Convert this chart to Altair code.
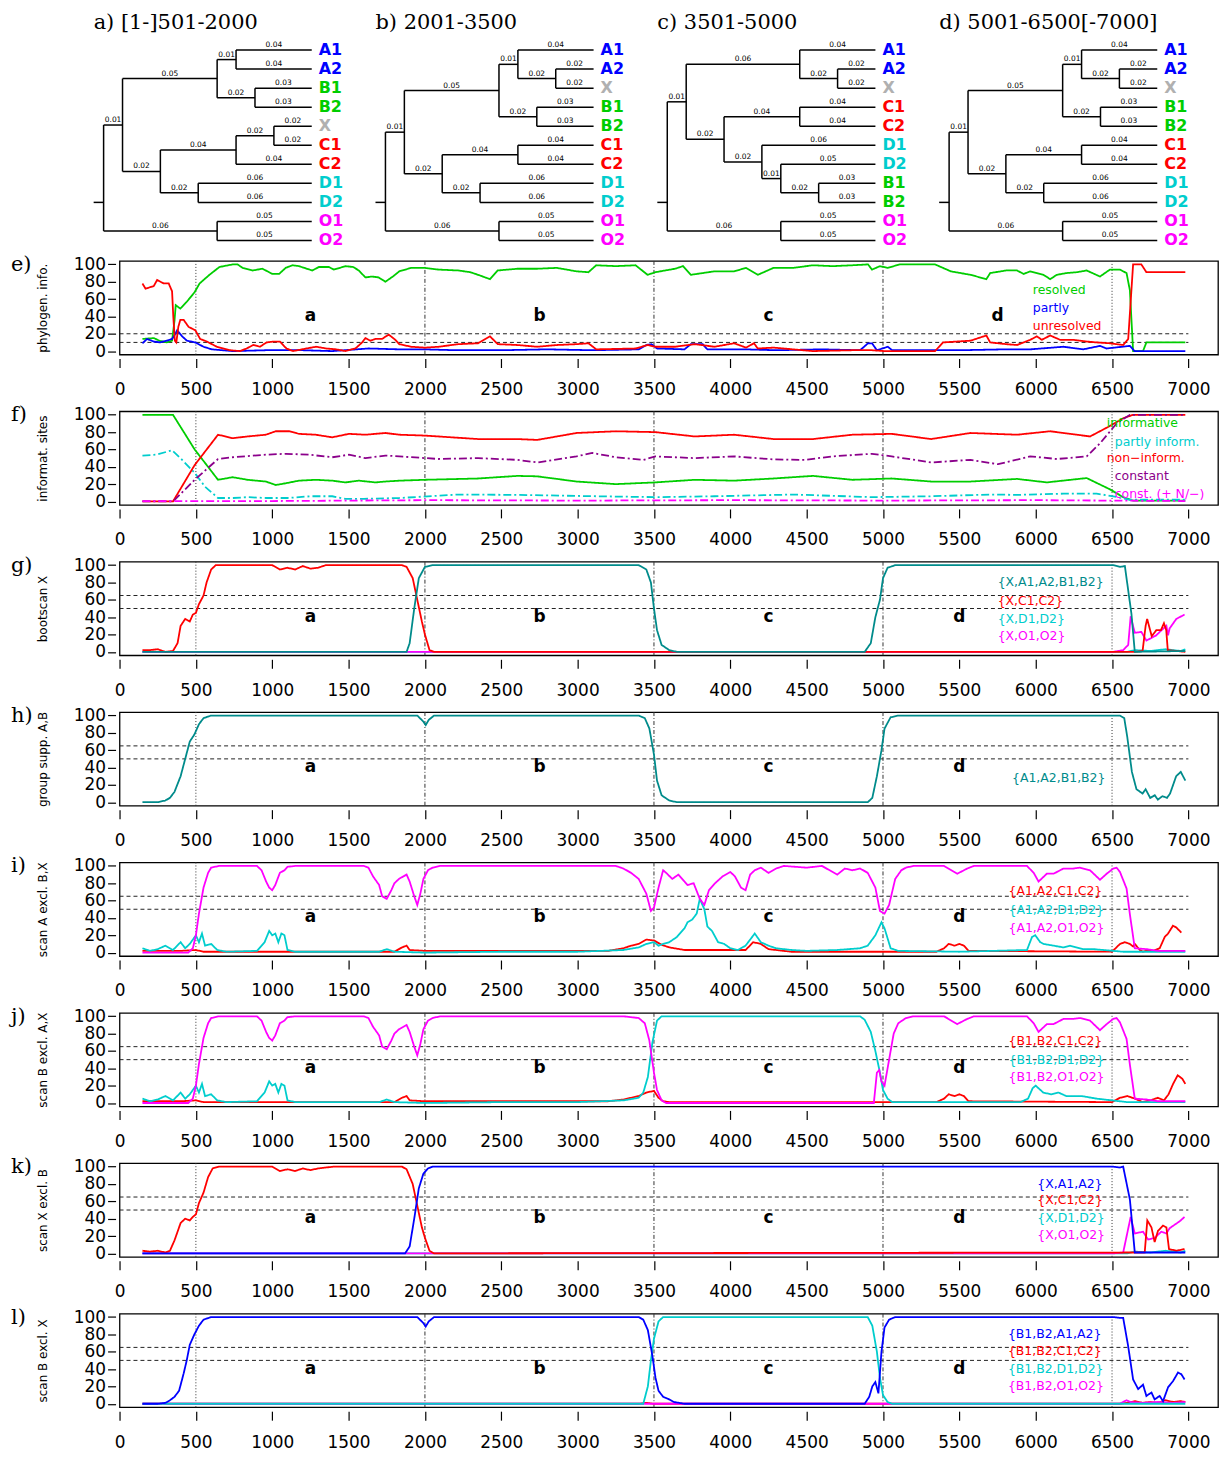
import altair as alt
import pandas as pd

SANS = "DejaVu Sans"
SERIF = "DejaVu Serif"
GREEN = "#00CD00"; RED = "#FF0000"; BLUE = "#0000FF"; CYAN = "#00CDCD"
MAGENTA = "#FF00FF"; TEAL = "#008B8B"; PURPLE = "#8B008B"; GREY = "#B0B0B0"
SOLID = [1, 0]
DASHDOT = [8, 3, 2, 3]

# ---------------- trees ----------------
TREE_TITLES = ["a) [1-]501-2000", "b) 2001-3500", "c) 3501-5000", "d) 5001-6500[-7000]"]
TREE_NEWICK = [
    "((((A1:0.04,A2:0.04):0.01,(B1:0.03,B2:0.03):0.02):0.05,(((X:0.02,C1:0.02):0.02,C2:0.04):0.04,(D1:0.06,D2:0.06):0.02):0.02):0.01,(O1:0.05,O2:0.05):0.06);",
    "((((A1:0.04,(A2:0.02,X:0.02):0.02):0.01,(B1:0.03,B2:0.03):0.02):0.05,((C1:0.04,C2:0.04):0.04,(D1:0.06,D2:0.06):0.02):0.02):0.01,(O1:0.05,O2:0.05):0.06);",
    "(((A1:0.04,(A2:0.02,X:0.02):0.02):0.06,((C1:0.04,C2:0.04):0.04,(D1:0.06,(D2:0.05,(B1:0.03,B2:0.03):0.02):0.01):0.02):0.02):0.01,(O1:0.05,O2:0.05):0.06);",
    "((((A1:0.04,(A2:0.02,X:0.02):0.02):0.01,(B1:0.03,B2:0.03):0.02):0.05,((C1:0.04,C2:0.04):0.04,(D1:0.06,D2:0.06):0.02):0.02):0.01,(O1:0.05,O2:0.05):0.06);",
]
LEAF_COLORS = {"A": BLUE, "B": GREEN, "X": GREY, "C": RED, "D": CYAN, "O": MAGENTA}

# ---------------- panel e ----------------
E_RESOLVED = [(150,14),(225,15),(260,12),(310,10),(344,12),(360,35),(368,53),(398,49),(441,57),(492,68),(524,78),(589,88),(654,97),(741,100),(773,100),(806,96),(871,93),(936,95),(1001,89),(1045,89),(1088,96),(1132,99),(1175,98),(1262,93),(1306,97),(1371,97),(1404,94),(1480,98),(1530,97),(1567,93),(1610,85),(1654,86),(1697,85),(1741,80),(1790,86),(1832,92),(1910,96),(2000,96),(2090,94),(2219,93),(2297,91),(2348,88),(2426,83),(2477,93),(2606,95),(2735,95),(2864,96),(2993,92),(3071,91),(3122,99),(3251,98),(3380,99),(3458,88),(3509,91),(3638,95),(3690,98),(3742,88),(3896,92),(4025,92),(4103,96),(4180,88),(4283,96),(4412,96),(4541,99),(4670,98),(4799,99),(4902,100),(4928,94),(4980,98),(5032,96),(5109,100),(5341,100),(5444,92),(5573,88),(5677,83),(5702,90),(5806,93),(5878,93),(5921,89),(5964,92),(6051,88),(6095,83),(6138,88),(6203,90),(6268,91),(6334,93),(6421,86),(6486,94),(6552,94),(6595,90),(6617,70),(6638,0),(6703,0),(6725,10),(6980,10)]
E_PARTLY = [(150,9),(180,14),(224,11),(267,10),(311,12),(344,14),(366,20),(377,24),(410,17),(441,12),(496,10),(550,5),(604,2),(741,0),(958,1),(1200,1),(1393,0),(1632,3),(1832,2),(2000,2),(2200,1),(2500,1),(2800,2),(3100,1),(3400,2),(3450,7),(3484,8),(3520,3),(3700,2),(3742,8),(3819,8),(3850,2),(4100,2),(4300,1),(4600,2),(4850,1),(4902,9),(4928,9),(4960,1),(5032,5),(5060,1),(5500,1),(5800,2),(5964,2),(6182,5),(6312,2),(6421,6),(6464,3),(6617,6),(6648,0),(6980,0)]
E_UNRESOLVED = [(150,78),(170,72),(224,75),(246,82),(290,78),(322,78),(344,69),(352,40),(362,12),(372,10),(385,28),(398,36),(420,36),(452,28),(496,24),(528,14),(572,11),(637,5),(724,1),(789,0),(832,3),(876,7),(919,5),(963,10),(1006,11),(1050,11),(1093,3),(1136,0),(1223,3),(1288,5),(1354,3),(1419,2),(1480,0),(1545,3),(1589,10),(1610,15),(1643,12),(1676,14),(1719,14),(1763,19),(1806,13),(1832,8),(1910,5),(2000,4),(2090,5),(2219,8),(2348,9),(2426,17),(2477,8),(2606,7),(2735,5),(2864,7),(2993,8),(3071,9),(3122,2),(3380,3),(3458,7),(3509,5),(3638,5),(3767,8),(3896,5),(4025,9),(4103,4),(4155,9),(4180,3),(4283,4),(4412,2),(4541,0),(4799,1),(4928,1),(5006,0),(5341,0),(5393,10),(5573,12),(5677,18),(5702,10),(5806,8),(5878,7),(5964,13),(6008,17),(6040,13),(6095,18),(6160,13),(6247,13),(6334,11),(6399,10),(6486,9),(6573,7),(6606,14),(6638,100),(6692,100),(6725,91),(6980,91)]

# ---------------- panel f ----------------
F_INFORMATIVE = [(150,100),(350,100),(492,60),(645,25),(741,28),(838,25),(958,23),(1023,19),(1088,21),(1175,24),(1284,25),(1393,24),(1480,22),(1567,24),(1676,22),(1741,23),(1832,24),(2000,25),(2348,26.5),(2606,29.5),(2735,29),(2993,23),(3251,20),(3509,22),(3767,25),(4025,24),(4283,26.5),(4541,29.5),(4799,25),(5057,26.5),(5315,23),(5573,23),(5878,26),(6073,22),(6334,27),(6486,14),(6573,5),(6638,1),(6980,1)]
F_PARTLY = [(150,53),(240,54),(344,59),(410,48),(492,33),(560,17),(645,4),(741,4),(838,5),(958,4),(1100,4),(1250,6),(1393,6),(1480,3),(1600,3),(1832,4),(2219,8),(2606,7.6),(3122,6),(3509,5),(3896,6),(4412,8),(4928,5),(5315,6),(5702,8),(5878,7.6),(6182,9),(6399,9),(6508,6),(6617,2),(6980,2)]
F_NONINF = [(150,0),(350,0),(492,42),(645,77),(741,73),(838,75),(958,77),(1023,81),(1110,81),(1175,78),(1284,77),(1393,74),(1502,78),(1610,77),(1741,79),(1832,77),(2000,76),(2348,72),(2606,72),(2735,71),(2993,79),(3251,81),(3509,80),(3767,75),(4025,77),(4283,72),(4541,72),(4799,77),(5057,78),(5315,72),(5573,79),(5878,77),(6095,81),(6356,75),(6464,85),(6573,96),(6638,100),(6980,100)]
F_CONSTANT = [(150,0),(350,0),(492,25),(645,49),(741,51),(958,54),(1088,55),(1240,54),(1393,51),(1502,54),(1610,50),(1741,53),(1832,52),(2090,49),(2348,50),(2606,48),(2735,45),(2993,52),(3096,56),(3251,51),(3432,48),(3509,52),(3767,50),(4025,52),(4283,48.5),(4490,48),(4670,52),(4928,55),(5057,52),(5315,45),(5573,48),(5754,43),(5964,52),(6138,49),(6334,52),(6421,67),(6530,90),(6617,100),(6980,100)]
F_CONST_N = [(150,0.5),(1000,0.5),(2000,1.5),(3000,1),(4000,1.5),(5000,1),(6000,1.5),(6980,0.5)]

# ---------------- panel g ----------------
G_XAB = [(150,0),(1880,0),(1900,10),(1930,50),(1960,85),(2000,98),(2050,100),(3400,100),(3450,95),(3480,80),(3500,50),(3520,25),(3550,8),(3600,2),(3650,0),(4880,0),(4920,10),(4950,40),(4980,60),(5000,85),(5030,97),(5080,100),(6508,100),(6552,98),(6584,99),(6627,44),(6649,0),(6980,1)]
G_XC = [(150,2),(200,2),(250,3),(300,0),(350,1),(380,10),(400,30),(430,38),(460,35),(480,43),(500,45),(520,55),(550,65),(570,80),(600,95),(630,100),(1000,100),(1050,95),(1100,97),(1150,95),(1200,99),(1250,96),(1300,97),(1350,100),(1850,100),(1880,98),(1920,85),(1950,60),(1980,35),(2000,20),(2030,2),(2060,0),(6650,0),(6700,1),(6720,30),(6730,38),(6760,18),(6790,25),(6820,25),(6840,33),(6855,25),(6865,2),(6980,0)]
G_XD = [(150,0),(6600,0),(6650,2),(6750,1),(6850,3),(6950,1),(6980,3)]
G_XO = [(150,0),(6508,0),(6573,2),(6606,8),(6622,41),(6649,22),(6692,23),(6725,13),(6790,19),(6812,23),(6856,30),(6867,19),(6877,27),(6921,38),(6975,43)]

# ---------------- panel h ----------------
H_AB = [(150,0),(250,0),(300,2),(330,5),(360,12),(400,30),(430,50),(460,70),(490,78),(520,90),(550,97),(600,100),(1950,100),(1990,93),(2005,89),(2025,95),(2060,100),(3400,100),(3440,97),(3470,85),(3500,55),(3520,25),(3550,8),(3600,2),(3650,0),(4900,0),(4930,5),(4960,30),(4990,60),(5010,85),(5050,98),(5100,100),(6550,100),(6580,97),(6600,75),(6630,35),(6660,15),(6700,10),(6720,15),(6750,5),(6780,8),(6800,3),(6830,7),(6860,5),(6880,10),(6920,30),(6950,35),(6980,25)]

# ---------------- panel i ----------------
I_AC = [(150,2),(400,2),(500,3),(550,1),(1800,1),(1850,6),(1880,8),(1900,3),(2000,2),(3200,2),(3300,5),(3350,8),(3400,10),(3450,15),(3500,14),(3550,9),(3600,6),(3700,3),(4100,3),(4150,12),(4200,10),(4250,4),(4400,1),(5350,1),(5400,5),(5430,10),(5470,8),(5500,10),(5530,8),(5560,2),(6500,1),(6552,10),(6584,12),(6617,10),(6638,7),(6649,10),(6682,3),(6703,1),(6747,3),(6769,2),(6812,5),(6845,18),(6867,22),(6899,31),(6921,29),(6954,23)]
I_AD = [(150,5),(200,2),(250,4),(300,8),(350,3),(400,12),(430,5),(460,10),(500,20),(520,12),(540,22),(560,8),(600,10),(640,3),(700,1),(900,2),(950,12),(980,25),(1000,20),(1020,22),(1040,12),(1060,22),(1080,20),(1100,3),(1150,1),(1700,1),(1750,4),(1800,1),(2000,0),(2500,1),(3000,1),(3300,3),(3400,6),(3450,10),(3500,12),(3530,8),(3560,10),(3600,12),(3650,18),(3700,28),(3720,35),(3750,38),(3780,45),(3800,62),(3830,50),(3850,30),(3880,25),(3920,12),(3960,10),(4000,5),(4050,3),(4100,8),(4130,15),(4160,22),(4200,12),(4250,8),(4300,5),(4400,3),(4500,2),(4700,3),(4850,5),(4900,8),(4950,20),(4990,35),(5010,28),(5050,5),(5100,2),(5500,1),(5943,3),(5976,18),(5997,20),(6030,12),(6052,10),(6117,8),(6182,6),(6225,8),(6312,4),(6378,4),(6443,3),(6573,1),(6980,1)]
I_AO = [(150,0),(450,0),(480,5),(500,20),(520,45),(550,75),(580,92),(600,98),(650,100),(900,100),(930,95),(960,82),(980,75),(1000,72),(1020,78),(1050,92),(1080,95),(1100,99),(1150,100),(1600,100),(1630,98),(1660,88),(1700,78),(1720,65),(1750,62),(1780,72),(1800,80),(1830,85),(1860,88),(1880,90),(1900,82),(1930,65),(1950,55),(1970,68),(1990,85),(2020,95),(2050,98),(2100,100),(3250,100),(3300,97),(3350,92),(3400,85),(3450,68),(3480,48),(3500,52),(3530,75),(3560,95),(3580,92),(3620,85),(3660,90),(3700,82),(3720,78),(3760,80),(3800,62),(3830,55),(3860,72),(3900,80),(3950,88),(4000,93),(4030,88),(4070,75),(4100,72),(4130,90),(4160,95),(4200,98),(4250,92),(4300,97),(4350,100),(4500,98),(4600,100),(4700,90),(4750,97),(4800,95),(4850,97),(4900,92),(4950,75),(4980,48),(5010,45),(5040,55),(5080,85),(5120,95),(5150,98),(5200,100),(5400,100),(5486,91),(5552,97),(5595,100),(5943,100),(5987,92),(6019,82),(6073,91),(6117,91),(6182,97),(6247,97),(6290,98),(6356,95),(6421,84),(6465,91),(6508,97),(6530,98),(6552,93),(6595,74),(6617,44),(6649,5),(6725,4),(6800,2),(6980,2)]

# ---------------- panel j ----------------
J_BC = [(150,2),(400,2),(500,3),(550,1),(1800,1),(1850,6),(1880,8),(1900,3),(2000,2),(3200,2),(3300,4),(3400,8),(3450,12),(3500,14),(3530,6),(3560,2),(3600,1),(5350,1),(5400,5),(5430,10),(5470,8),(5500,10),(5530,8),(5560,2),(6500,1),(6552,6),(6600,8),(6650,5),(6700,1),(6750,3),(6800,6),(6840,3),(6870,10),(6900,22),(6930,32),(6960,28),(6980,22)]
J_BD = [(150,5),(200,2),(250,4),(300,8),(350,3),(400,12),(430,5),(460,10),(500,20),(520,12),(540,22),(560,8),(600,10),(640,3),(700,1),(900,2),(950,12),(980,25),(1000,20),(1020,22),(1040,12),(1060,22),(1080,20),(1100,3),(1150,1),(1700,1),(1750,4),(1800,1),(2000,0),(2500,1),(3000,1),(3300,3),(3400,6),(3430,12),(3460,30),(3490,70),(3520,95),(3550,100),(4850,100),(4880,96),(4920,82),(4950,60),(4980,35),(5000,15),(5030,5),(5060,1),(5900,1),(5950,5),(5980,17),(6000,20),(6050,12),(6100,10),(6150,12),(6200,8),(6300,8),(6400,5),(6500,3),(6600,1),(6980,1)]
J_BO = [(150,0),(450,0),(480,5),(500,20),(520,45),(550,75),(580,92),(600,98),(650,100),(900,100),(930,95),(960,82),(980,75),(1000,72),(1020,78),(1050,92),(1080,95),(1100,99),(1150,100),(1600,100),(1630,98),(1660,88),(1700,78),(1720,65),(1750,62),(1780,72),(1800,80),(1830,85),(1860,88),(1880,90),(1900,82),(1930,65),(1950,55),(1970,68),(1990,85),(2020,95),(2050,98),(2100,100),(3300,100),(3400,98),(3440,92),(3470,72),(3500,35),(3520,15),(3550,3),(3580,0),(4940,0),(4960,35),(4975,38),(4990,25),(5010,20),(5040,50),(5070,80),(5100,92),(5150,98),(5200,100),(5400,100),(5486,91),(5552,97),(5595,100),(5943,100),(5987,92),(6019,82),(6073,91),(6117,91),(6182,97),(6247,97),(6290,98),(6356,95),(6421,84),(6465,91),(6508,97),(6530,98),(6552,93),(6595,74),(6617,44),(6649,5),(6725,4),(6800,2),(6980,2)]

# ---------------- panel k ----------------
K_XA = [(150,0),(1870,0),(1900,8),(1930,40),(1960,75),(1990,92),(2020,98),(2050,100),(6508,100),(6552,99),(6573,100),(6617,62),(6649,1),(6980,1)]
K_XC = [(150,3),(200,2),(250,3),(300,1),(330,3),(360,15),(400,35),(430,40),(460,38),(480,42),(500,45),(520,58),(550,70),(580,88),(610,98),(650,100),(1000,100),(1050,95),(1100,97),(1150,95),(1200,98),(1250,96),(1300,98),(1400,100),(1850,100),(1880,97),(1920,80),(1950,55),(1980,30),(2000,18),(2030,3),(2060,0),(6714,1),(6731,38),(6758,30),(6779,13),(6801,26),(6834,32),(6856,30),(6873,5),(6921,3),(6975,5)]
K_XD = [(150,0),(6600,0),(6650,2),(6750,1),(6850,3),(6950,1),(6980,3)]
K_XO = [(150,0),(6508,0),(6573,1),(6622,42),(6649,23),(6703,25),(6736,16),(6779,18),(6823,25),(6856,23),(6877,29),(6943,37),(6975,42)]

# ---------------- panel l ----------------
L_BA = [(150,0),(250,0),(300,1),(330,4),(360,8),(390,15),(420,35),(440,50),(460,68),(490,80),(520,90),(550,97),(600,100),(1950,100),(1990,93),(2005,89),(2025,95),(2060,100),(3400,100),(3430,97),(3460,85),(3490,55),(3510,30),(3530,15),(3560,8),(3600,5),(3630,2),(3700,0),(4880,0),(4910,8),(4930,20),(4950,25),(4970,12),(4990,60),(5010,88),(5040,97),(5080,100),(6508,100),(6552,99),(6573,99),(6606,66),(6638,28),(6671,17),(6703,22),(6725,9),(6758,13),(6779,5),(6812,9),(6834,3),(6867,19),(6899,26),(6932,36),(6954,34),(6975,28)]
L_BC = [(150,0),(3400,0),(3450,1),(3500,0),(6550,0),(6600,1),(6650,3),(6700,1),(6750,2),(6800,1),(6850,4),(6900,2),(6950,3),(6980,2)]
L_BD = [(150,0),(3430,0),(3460,20),(3480,50),(3500,75),(3530,95),(3560,100),(4900,100),(4930,90),(4960,60),(4980,30),(5000,10),(5030,2),(5060,0),(6980,0)]
L_BO = [(150,0),(6550,0),(6595,4),(6620,2),(6700,1),(6800,2),(6900,1),(6980,2)]

X_TICKS = list(range(0, 7001, 500))
Y_TICKS = [0, 20, 40, 60, 80, 100]
SEG_DOTTED = [500, 6500]
SEG_DASHDOT = [2000, 3500, 5000]
SEG_LETTERS = ["a", "b", "c", "d"]
SEG_LETTER_X_E = [1250, 2750, 4250, 5750]
SEG_LETTER_X = [1250, 2750, 4250, 5500]
HLINE_SPAN = [0, 7000]

# ---------------- layout constants ----------------
PLOT_W = 1103
PLOT_H = 94
X_MAX = 7194
TREE_PXU = 1900.0          # pixels per branch-length unit
TREE_PITCH = 283 / TREE_PXU
TREE_ROOT_PX = 16 / TREE_PXU
ROOT_STUB = 10 / TREE_PXU
ROOT_STUB_ROW = 9
TREE_H = 193
TREE_YDOM = [-1, -1 + TREE_H / 19.12]
TITLE_ROW = -0.4
LETTER_Y = 40.5


def parse_newick(s):
    pos = 0

    def node():
        nonlocal pos
        children = []
        if s[pos] == "(":
            pos += 1
            while True:
                children.append(node())
                if s[pos] == ",":
                    pos += 1
                elif s[pos] == ")":
                    pos += 1
                    break
                else:
                    raise ValueError("bad newick at %d" % pos)
        start = pos
        while pos < len(s) and s[pos] not in ",();":
            pos += 1
        tok = s[start:pos]
        if ":" in tok:
            name, bl = tok.split(":")
            bl = float(bl)
        else:
            name, bl = tok, 0.0
        return {"name": name, "bl": bl, "children": children}

    return node()


seg_rows, lab_rows, leaf_rows, title_rows = [], [], [], []
for i, (nw, title) in enumerate(zip(TREE_NEWICK, TREE_TITLES)):
    off = i * TREE_PITCH
    tree = parse_newick(nw)
    counter = [0]

    def walk(n, depth, off=off, counter=counter):
        d = depth + n["bl"]
        if not n["children"]:
            counter[0] += 1
            y = counter[0]
            leaf_rows.append({"x": off + d, "y": y, "t": n["name"], "c": LEAF_COLORS[n["name"][0]]})
        else:
            ys = [walk(c, d) for c in n["children"]]
            y = (ys[0] + ys[-1]) / 2
            seg_rows.append({"x": off + d, "x2": off + d, "y": ys[0], "y2": ys[-1]})
        if n["bl"] > 0:
            seg_rows.append({"x": off + depth, "x2": off + d, "y": y, "y2": y})
            lab_rows.append({"x": off + (depth + d) / 2, "y": y, "t": f"{n['bl']:.2f}"})
        return y

    walk(tree, 0.0)
    seg_rows.append({"x": off - ROOT_STUB, "x2": off, "y": ROOT_STUB_ROW, "y2": ROOT_STUB_ROW})
    title_rows.append({"x": off, "t": title})

tx = alt.Scale(domain=[TREE_ROOT_PX, TREE_ROOT_PX + PLOT_W / TREE_PXU], nice=False, zero=False)
ty = alt.Scale(domain=TREE_YDOM, reverse=True, nice=False, zero=False)

tree_segs = alt.Chart(pd.DataFrame(seg_rows)).mark_rule(color="black", strokeWidth=1.5).encode(
    x=alt.X("x:Q", scale=tx, axis=None), x2="x2:Q",
    y=alt.Y("y:Q", scale=ty, axis=None), y2="y2:Q")
tree_bl = alt.Chart(pd.DataFrame(lab_rows)).mark_text(font=SANS, fontSize=7.5, baseline="bottom", dy=-1, color="black").encode(
    x=alt.X("x:Q", scale=tx, axis=None), y=alt.Y("y:Q", scale=ty, axis=None), text="t:N")
tree_leaves = alt.Chart(pd.DataFrame(leaf_rows)).mark_text(font=SANS, fontSize=16, fontWeight="bold", align="left", baseline="middle", dx=7).encode(
    x=alt.X("x:Q", scale=tx, axis=None), y=alt.Y("y:Q", scale=ty, axis=None), text="t:N",
    color=alt.Color("c:N", scale=None))
tree_titles = alt.Chart(pd.DataFrame(title_rows)).mark_text(font=SERIF, fontSize=21, align="left", baseline="middle", dx=-10, color="black").encode(
    x=alt.X("x:Q", scale=tx, axis=None), y=alt.YDatum(TITLE_ROW, scale=ty, axis=None), text="t:N")
tree_chart = alt.layer(tree_segs, tree_bl, tree_leaves, tree_titles).properties(
    width=PLOT_W, height=TREE_H, view=alt.ViewBackground(stroke="transparent"))


def panel(tag, ytitle, series, legend, hlines, letter_x):
    rows = []
    for name, pts, color, dash in series:
        for x, y in pts:
            rows.append({"x": x, "y": y, "s": tag + name})
    df = pd.DataFrame(rows)
    names = [tag + s[0] for s in series]
    xs = alt.Scale(domain=[0, X_MAX], nice=False, zero=False)
    ys = alt.Scale(domain=[-4, 104], nice=False, zero=False)
    xax = alt.Axis(values=X_TICKS, title=None, format="d", labelOverlap=False, labelFlush=False)
    yax = alt.Axis(values=Y_TICKS, title=ytitle, format="d", labelOverlap=False, labelFlush=False)
    layers = []
    layers.append(alt.Chart(pd.DataFrame({"x": SEG_DOTTED})).mark_rule(
        strokeDash=[1, 2], color="#333333", strokeWidth=1).encode(x=alt.X("x:Q", scale=xs, axis=xax)))
    layers.append(alt.Chart(pd.DataFrame({"x": SEG_DASHDOT})).mark_rule(
        strokeDash=[4, 2, 1, 2], color="#333333", strokeWidth=1).encode(x=alt.X("x:Q", scale=xs, axis=xax)))
    if hlines:
        layers.append(alt.Chart(pd.DataFrame({"y": hlines})).mark_rule(
            strokeDash=[4, 3], color="#222222", strokeWidth=1).encode(
            y=alt.Y("y:Q", scale=ys, axis=yax),
            x=alt.XDatum(HLINE_SPAN[0], scale=xs, axis=xax), x2=alt.X2Datum(HLINE_SPAN[1])))
    layers.append(alt.Chart(df).mark_line(strokeWidth=1.8).encode(
        x=alt.X("x:Q", scale=xs, axis=xax),
        y=alt.Y("y:Q", scale=ys, axis=yax),
        color=alt.Color("s:N", scale=alt.Scale(domain=names, range=[s[2] for s in series]), legend=None),
        strokeDash=alt.StrokeDash("s:N", scale=alt.Scale(domain=names, range=[s[3] for s in series]), legend=None)))
    if letter_x:
        layers.append(alt.Chart(pd.DataFrame({"x": letter_x, "t": SEG_LETTERS})).mark_text(
            font=SANS, fontSize=17, fontWeight="bold", color="black").encode(
            x=alt.X("x:Q", scale=xs, axis=xax), y=alt.YDatum(LETTER_Y, scale=ys, axis=yax), text="t:N"))
    ldf = pd.DataFrame([{"x": x, "y": y, "t": t, "c": c} for (t, x, y, c) in legend])
    layers.append(alt.Chart(ldf).mark_text(font=SANS, fontSize=12.5, align="left", baseline="middle").encode(
        x=alt.X("x:Q", scale=xs, axis=xax), y=alt.Y("y:Q", scale=ys, axis=yax), text="t:N",
        color=alt.Color("c:N", scale=None)))
    layers.append(alt.Chart(pd.DataFrame({"t": [tag]})).mark_text(
        font=SERIF, fontSize=21, align="left", baseline="middle", color="black").encode(
        x=alt.value(-109), y=alt.value(4), text="t:N"))
    return alt.layer(*layers).properties(width=PLOT_W, height=PLOT_H)


panels = [
    panel("e)", "phylogen. info.",
          [("resolved", E_RESOLVED, GREEN, SOLID), ("partly", E_PARTLY, BLUE, SOLID), ("unresolved", E_UNRESOLVED, RED, SOLID)],
          [("resolved", 5981, 71, GREEN), ("partly", 5981, 50, BLUE), ("unresolved", 5981, 29, RED)], [20, 10],
          SEG_LETTER_X_E),
    panel("f)", "informat. sites",
          [("informative", F_INFORMATIVE, GREEN, SOLID), ("partly", F_PARTLY, CYAN, DASHDOT), ("noninf", F_NONINF, RED, SOLID),
           ("constant", F_CONSTANT, PURPLE, DASHDOT), ("constn", F_CONST_N, MAGENTA, DASHDOT)],
          [("informative", 6465, 91, GREEN), ("partly inform.", 6518, 69, CYAN), ("non\u2212inform.", 6465, 49.6, RED),
           ("constant", 6518, 29, PURPLE), ("const. (+ N/\u2212)", 6518, 8.7, MAGENTA)], [], None),
    panel("g)", "bootscan X",
          [("xd", G_XD, CYAN, SOLID), ("xo", G_XO, MAGENTA, SOLID), ("xc", G_XC, RED, SOLID), ("xab", G_XAB, TEAL, SOLID)],
          [("{X,A1,A2,B1,B2}", 5751, 80.5, TEAL), ("{X,C1,C2}", 5751, 58.6, RED), ("{X,D1,D2}", 5751, 38.3, CYAN),
           ("{X,O1,O2}", 5751, 18.4, MAGENTA)], [65, 50], SEG_LETTER_X),
    panel("h)", "group supp. A,B",
          [("ab", H_AB, TEAL, SOLID)],
          [("{A1,A2,B1,B2}", 5845, 28, TEAL)], [65, 50], SEG_LETTER_X),
    panel("i)", "scan A excl. B,X",
          [("ac", I_AC, RED, SOLID), ("ad", I_AD, CYAN, SOLID), ("ao", I_AO, MAGENTA, SOLID)],
          [("{A1,A2,C1,C2}", 5822, 71, RED), ("{A1,A2,D1,D2}", 5822, 49, CYAN), ("{A1,A2,O1,O2}", 5822, 28, MAGENTA)], [65, 50],
          SEG_LETTER_X),
    panel("j)", "scan B excl. A,X",
          [("bc", J_BC, RED, SOLID), ("bd", J_BD, CYAN, SOLID), ("bo", J_BO, MAGENTA, SOLID)],
          [("{B1,B2,C1,C2}", 5822, 71, RED), ("{B1,B2,D1,D2}", 5822, 50, CYAN), ("{B1,B2,O1,O2}", 5822, 30, MAGENTA)], [65, 50],
          SEG_LETTER_X),
    panel("k)", "scan X excl. B",
          [("xd", K_XD, CYAN, SOLID), ("xo", K_XO, MAGENTA, SOLID), ("xc", K_XC, RED, SOLID), ("xa", K_XA, BLUE, SOLID)],
          [("{X,A1,A2}", 6011, 80.5, BLUE), ("{X,C1,C2}", 6011, 61, RED), ("{X,D1,D2}", 6011, 41, CYAN),
           ("{X,O1,O2}", 6011, 21, MAGENTA)], [65, 50], SEG_LETTER_X),
    panel("l)", "scan B excl. X",
          [("bc", L_BC, RED, SOLID), ("bo", L_BO, MAGENTA, SOLID), ("bd", L_BD, CYAN, SOLID), ("ba", L_BA, BLUE, SOLID)],
          [("{B1,B2,A1,A2}", 5818, 81, BLUE), ("{B1,B2,C1,C2}", 5818, 60.5, RED), ("{B1,B2,D1,D2}", 5818, 40, CYAN),
           ("{B1,B2,O1,O2}", 5818, 21, MAGENTA)], [65, 50], SEG_LETTER_X),
]

chart = alt.VConcatChart(vconcat=[tree_chart] + panels, spacing=57, bounds="flush").resolve_scale(
    color="independent", strokeDash="independent")
chart = chart.configure_view(stroke="black", strokeWidth=1.3).configure_axis(
    grid=False, domain=False, ticks=True, tickColor="black", tickWidth=1.2,
    labelColor="black", labelFont=SANS, labelFontSize=17, labelFlush=False, labelOverlap=False,
    labelBound=False, offset=4
).configure_axisX(
    tickSize=9, labelPadding=14
).configure_axisY(
    tickSize=8, labelPadding=2, titleFont=SANS, titleFontSize=12, titleFontWeight="normal",
    titleColor="black", titleX=-73, titleY=47, titleAngle=270, titleAlign="center", titleBaseline="middle"
).properties(padding={"left": 2, "top": 0, "right": 0, "bottom": 0}, background="white")

chart.save("out.html", embed_options={"renderer": "svg", "actions": False})
